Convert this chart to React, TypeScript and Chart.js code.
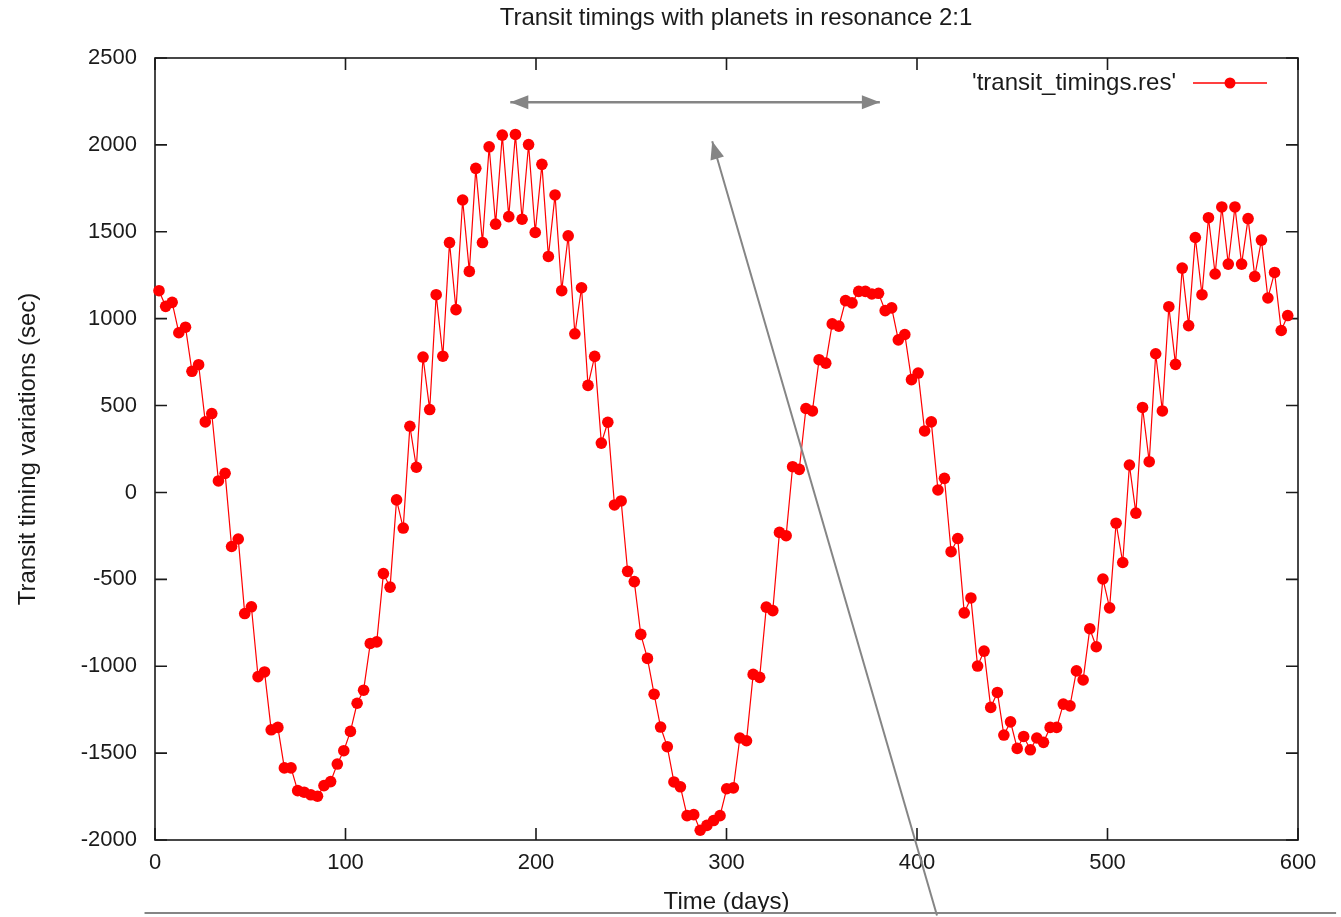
import { useEffect, useRef } from "react";
import { Chart, registerables } from "chart.js";

Chart.register(...registerables);

const TITLE = "Transit timings with planets in resonance 2:1";
const X_TITLE = "Time (days)";
const Y_TITLE = "Transit timing variations (sec)";
const SERIES_LABEL = "'transit_timings.res'";

const X_MIN = 0;
const X_MAX = 600;
const X_STEP = 100;
const Y_MIN = -2000;
const Y_MAX = 2500;
const Y_STEP = 500;

// transit times (days)
const TIME_DAYS = [
  2.1, 5.6, 9.0, 12.5, 16.0, 19.4, 22.9, 26.4, 29.8, 33.3,
  36.8, 40.2, 43.7, 47.1, 50.6, 54.1, 57.5, 61.0, 64.5, 67.9,
  71.4, 74.9, 78.3, 81.8, 85.3, 88.7, 92.2, 95.7, 99.1, 102.6,
  106.1, 109.5, 113.0, 116.4, 119.9, 123.4, 126.8, 130.3, 133.8, 137.2,
  140.7, 144.2, 147.6, 151.1, 154.6, 158.0, 161.5, 165.0, 168.4, 171.9,
  175.4, 178.8, 182.3, 185.7, 189.2, 192.7, 196.1, 199.6, 203.1, 206.5,
  210.0, 213.5, 216.9, 220.4, 223.9, 227.3, 230.8, 234.3, 237.7, 241.2,
  244.7, 248.1, 251.6, 255.0, 258.5, 262.0, 265.4, 268.9, 272.4, 275.8,
  279.3, 282.8, 286.2, 289.7, 293.2, 296.6, 300.1, 303.6, 307.0, 310.5,
  314.0, 317.4, 320.9, 324.3, 327.8, 331.3, 334.7, 338.2, 341.7, 345.1,
  348.6, 352.1, 355.5, 359.0, 362.5, 365.9, 369.4, 372.9, 376.3, 379.8,
  383.3, 386.7, 390.2, 393.6, 397.1, 400.6, 404.0, 407.5, 411.0, 414.4,
  417.9, 421.4, 424.8, 428.3, 431.8, 435.2, 438.7, 442.2, 445.6, 449.1,
  452.6, 456.0, 459.5, 462.9, 466.4, 469.9, 473.3, 476.8, 480.3, 483.7,
  487.2, 490.7, 494.1, 497.6, 501.1, 504.5, 508.0, 511.5, 514.9, 518.4,
  521.9, 525.3, 528.8, 532.2, 535.7, 539.2, 542.6, 546.1, 549.6, 553.0,
  556.5, 560.0, 563.4, 566.9, 570.4, 573.8, 577.3, 580.8, 584.2, 587.7,
  591.2, 594.6,
];

// transit timing variations (sec)
const TTV_SEC = [
  1161, 1071, 1094, 919, 951, 697, 735, 406, 454, 66,
  110, -311, -268, -697, -658, -1060, -1033, -1366, -1352, -1585,
  -1585, -1716, -1725, -1740, -1748, -1687, -1664, -1563, -1486, -1375,
  -1213, -1138, -869, -860, -467, -545, -43, -205, 381, 145,
  779, 477, 1138, 784, 1438, 1052, 1683, 1272, 1865, 1438,
  1989, 1544, 2056, 1587, 2060, 1572, 2002, 1496, 1888, 1358,
  1712, 1161, 1477, 913, 1178, 616, 783, 284, 404, -72,
  -49, -454, -513, -817, -955, -1161, -1350, -1463, -1666, -1694,
  -1860, -1854, -1944, -1916, -1888, -1860, -1705, -1700, -1413, -1429,
  -1047, -1064, -660, -680, -230, -249, 148, 133, 483, 469,
  764, 744, 970, 957, 1104, 1091, 1157, 1157, 1142, 1146,
  1046, 1062, 878, 909, 649, 687, 354, 406, 14, 81,
  -341, -265, -693, -607, -999, -913, -1237, -1151, -1396, -1320,
  -1473, -1404, -1481, -1413, -1438, -1352, -1352, -1218, -1228, -1027,
  -1079, -784, -888, -498, -664, -177, -403, 158, -119, 489,
  177, 798, 469, 1069, 737, 1291, 960, 1467, 1138, 1581,
  1257, 1643, 1314, 1643, 1314, 1576, 1243, 1452, 1119, 1266,
  932, 1018,
];

// annotation arrows, in data units [days, sec]
const SPAN_ARROW_FROM = [186.5, 2245];
const SPAN_ARROW_TO = [380.5, 2245];
const POINTER_FROM = [410.5, -2434];
const POINTER_TO = [292.5, 2021];
const BASE_RULE_FROM = [-5.5, -2420];
const BASE_RULE_TO = [620, -2420];

const FONT = "'Liberation Sans', Arial, Helvetica, sans-serif";
const RED = "#ff0000";
const GRAY = "#858585";
const INK = "#1a1a1a";

function drawArrow(ctx: CanvasRenderingContext2D, x1: number, y1: number, x2: number, y2: number, both: boolean) {
  const head = 18;
  const half = 7;
  const ang = Math.atan2(y2 - y1, x2 - x1);
  const headAt = (x: number, y: number, a: number) => {
    ctx.beginPath();
    ctx.moveTo(x, y);
    ctx.lineTo(x - head * Math.cos(a) + half * Math.sin(a), y - head * Math.sin(a) - half * Math.cos(a));
    ctx.lineTo(x - head * Math.cos(a) - half * Math.sin(a), y - head * Math.sin(a) + half * Math.cos(a));
    ctx.closePath();
    ctx.fill();
  };
  ctx.beginPath();
  ctx.moveTo(x1, y1);
  ctx.lineTo(x2, y2);
  ctx.stroke();
  headAt(x2, y2, ang);
  if (both) headAt(x1, y1, ang + Math.PI);
}

const framePlugin = {
  id: "gnuplotFrame",
  beforeDatasetsDraw(chart: any) {
    const { ctx, chartArea } = chart;
    const xs = chart.scales.x;
    const ys = chart.scales.y;
    const { left, right, top, bottom } = chartArea;
    const tick = 12;
    ctx.save();
    ctx.strokeStyle = INK;
    ctx.lineWidth = 1.6;
    ctx.strokeRect(left, top, right - left, bottom - top);
    ctx.beginPath();
    xs.ticks.forEach((t: any) => {
      const px = xs.getPixelForValue(t.value);
      ctx.moveTo(px, bottom);
      ctx.lineTo(px, bottom - tick);
      ctx.moveTo(px, top);
      ctx.lineTo(px, top + tick);
    });
    ys.ticks.forEach((t: any) => {
      const py = ys.getPixelForValue(t.value);
      ctx.moveTo(left, py);
      ctx.lineTo(left + tick, py);
      ctx.moveTo(right, py);
      ctx.lineTo(right - tick, py);
    });
    ctx.stroke();
    ctx.restore();
  },
  afterDraw(chart: any) {
    const { ctx } = chart;
    const xs = chart.scales.x;
    const ys = chart.scales.y;
    const P = (p: number[]) => [xs.getPixelForValue(p[0]), ys.getPixelForValue(p[1])];
    ctx.save();
    // title
    ctx.fillStyle = INK;
    ctx.font = `24px ${FONT}`;
    ctx.textAlign = "center";
    ctx.textBaseline = "middle";
    ctx.fillText(TITLE, 736, 18);
    // legend
    ctx.font = `24px ${FONT}`;
    ctx.textAlign = "right";
    ctx.fillText(SERIES_LABEL, 1176, 83);
    ctx.strokeStyle = RED;
    ctx.lineWidth = 1.5;
    ctx.beginPath();
    ctx.moveTo(1193, 83);
    ctx.lineTo(1267, 83);
    ctx.stroke();
    ctx.fillStyle = RED;
    ctx.beginPath();
    ctx.arc(1230, 83, 5.5, 0, Math.PI * 2);
    ctx.fill();
    // annotations
    ctx.strokeStyle = GRAY;
    ctx.fillStyle = GRAY;
    ctx.lineWidth = 2.5;
    const a1 = P(SPAN_ARROW_FROM), a2 = P(SPAN_ARROW_TO);
    drawArrow(ctx, a1[0], a1[1], a2[0], a2[1], true);
    const b1 = P(POINTER_FROM), b2 = P(POINTER_TO);
    ctx.lineWidth = 2;
    drawArrow(ctx, b1[0], b1[1], b2[0], b2[1], false);
    const r1 = P(BASE_RULE_FROM), r2 = P(BASE_RULE_TO);
    ctx.beginPath();
    ctx.moveTo(r1[0], r1[1]);
    ctx.lineTo(r2[0], r2[1]);
    ctx.stroke();
    ctx.restore();
  },
};

export default function App() {
  const ref = useRef<HTMLCanvasElement | null>(null);
  useEffect(() => {
    document.body.style.margin = "0";
    document.body.style.background = "#ffffff";
    const canvas = ref.current!;
    const chart = new Chart(canvas, {
      type: "line",
      data: {
        datasets: [
          {
            label: SERIES_LABEL,
            data: TIME_DAYS.map((t, i) => ({ x: t, y: TTV_SEC[i] })),
            borderColor: RED,
            backgroundColor: RED,
            borderWidth: 1.2,
            pointRadius: 5.8,
            pointHoverRadius: 5.8,
            pointBackgroundColor: RED,
            pointBorderWidth: 0,
            tension: 0,
            clip: false as any,
          },
        ],
      },
      options: {
        animation: false,
        responsive: false,
        devicePixelRatio: 1,
        events: [],
        layout: { padding: { top: 58, right: 43, left: 0, bottom: 0 } },
        plugins: {
          legend: { display: false },
          title: { display: false },
          tooltip: { enabled: false },
        },
        scales: {
          x: {
            type: "linear",
            min: X_MIN,
            max: X_MAX,
            grid: { display: false, drawTicks: false },
            border: { display: false },
            ticks: {
              stepSize: X_STEP,
              padding: 10,
              color: INK,
              font: { family: FONT, size: 22 },
              maxRotation: 0,
              callback: (v: any) => String(v),
            },
            title: {
              display: true,
              text: X_TITLE,
              color: INK,
              font: { family: FONT, size: 24 },
              padding: { top: 4, bottom: 0 },
            },
            afterFit: (s: any) => {
              s.height = 77;
            },
          },
          y: {
            type: "linear",
            min: Y_MIN,
            max: Y_MAX,
            grid: { display: false, drawTicks: false },
            border: { display: false },
            ticks: {
              stepSize: Y_STEP,
              padding: 18,
              color: INK,
              font: { family: FONT, size: 22 },
              callback: (v: any) => String(v),
            },
            title: {
              display: true,
              text: Y_TITLE,
              color: INK,
              font: { family: FONT, size: 24 },
              padding: { top: 14, bottom: 0 },
            },
            afterFit: (s: any) => {
              s.width = 155;
            },
          },
        },
      },
      plugins: [framePlugin],
    });
    return () => chart.destroy();
  }, []);
  return (
    <canvas
      ref={ref}
      width={1341}
      height={917}
      style={{ display: "block", width: "1341px", height: "917px" }}
    />
  );
}
